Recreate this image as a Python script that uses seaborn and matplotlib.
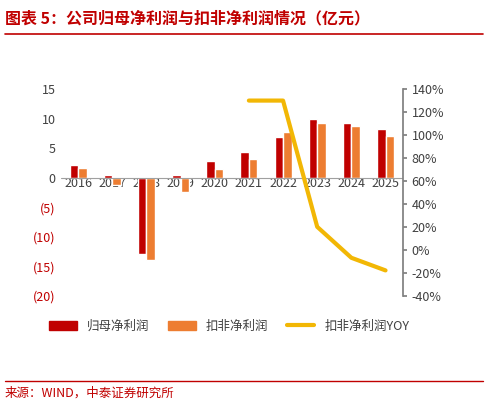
import matplotlib
matplotlib.use("Agg")
import matplotlib.pyplot as plt
import seaborn as sns
import numpy as np
import pandas as pd

years = ["2016","2017","2018","2019","2020","2021","2022","2023","2024","2025"]
net_profit = [2.2, 0.5, -13.0, 0.5, 2.8, 4.4, 6.8, 10.0, 9.2, 8.2]
deducted = [1.7, -1.2, -14.0, -2.5, 1.4, 3.2, 7.7, 9.3, 8.7, 7.0]
yoy_years = ["2021","2022","2023","2024","2025"]
yoy = [130, 130, 20, -7, -18]

sns.set_theme(style="white")
plt.rcParams['font.family'] = ['Noto Sans CJK SC', 'DejaVu Sans']

df = pd.DataFrame({"year": years*2,
                   "val": net_profit + deducted,
                   "s": ["归母净利润"]*10 + ["扣非净利润"]*10})

fig = plt.figure(figsize=(4.88, 4.05), dpi=100)
ax = fig.add_axes([0.125, 0.27, 0.70, 0.51])
sns.barplot(data=df, x="year", y="val", hue="s", palette=["#C00000", "#ED7D31"],
            width=0.5, ax=ax, legend=False, saturation=1)
ax.set_ylim(-20, 15)
ax.set_yticks(range(-20, 16, 5))
ax.set_yticklabels([("(%d)" % -v) if v < 0 else str(v) for v in range(-20, 16, 5)], fontsize=9)
for t, v in zip(ax.get_yticklabels(), range(-20, 16, 5)):
    t.set_color("#C00000" if v < 0 else "#404040")
ax.tick_params(axis='y', length=0, pad=4)
ax.axhline(0, color="#A0A0A0", lw=0.8)
ax.set_xlabel(""); ax.set_ylabel("")
ax.tick_params(axis='x', labelsize=9, colors="#404040", pad=0, length=0)
for lab in ax.get_xticklabels():
    lab.set_y(0.575)
for sp in ax.spines.values():
    sp.set_visible(False)

ax2 = ax.twinx()
xi = [years.index(y) for y in yoy_years]
sns.lineplot(x=xi, y=yoy, ax=ax2, color="#F2B705", lw=3)
ax2.set_ylim(-40, 140)
ax2.set_yticks(range(-40, 141, 20))
ax2.set_yticklabels([f"{v}%" for v in range(-40, 141, 20)], fontsize=9, color="#404040")
for sp in ax2.spines.values():
    sp.set_visible(False)
ax2.spines['right'].set_visible(True)
ax2.spines['right'].set_color("#808080")
ax2.tick_params(axis='y', length=3, color="#808080")
ax.set_xlim(-0.5, 9.5)

fig.text(0.01, 0.975, "图表 5：公司归母净利润与扣非净利润情况（亿元）", color="#C00000",
         fontsize=11.5, fontweight="bold", va="top")
fig.add_artist(plt.Line2D([0.01, 0.99], [0.915, 0.915], color="#C00000", lw=1.2))

from matplotlib.patches import Patch
from matplotlib.lines import Line2D
handles = [Patch(color="#C00000"), Patch(color="#ED7D31"), Line2D([], [], color="#F2B705", lw=3)]
fig.legend(handles, ["归母净利润", "扣非净利润", "扣非净利润YOY"], loc="center",
           bbox_to_anchor=(0.47, 0.195), ncol=3, frameon=False, fontsize=9,
           handlelength=2.2, columnspacing=1.5, labelcolor="#404040")

fig.add_artist(plt.Line2D([0.01, 0.99], [0.06, 0.06], color="#C00000", lw=1))
fig.text(0.01, 0.03, "来源：WIND，中泰证券研究所", color="#C00000", fontsize=9, va="center")
fig.savefig("out.png", dpi=100)
